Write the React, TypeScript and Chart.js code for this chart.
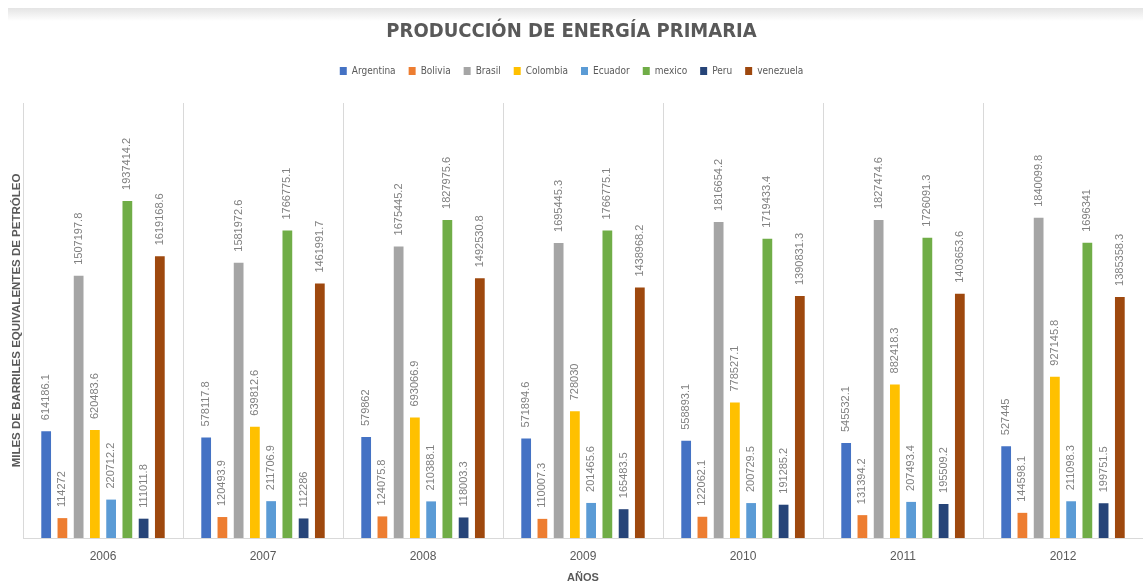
import React, { useEffect, useRef } from "react";
import { Chart, registerables } from "chart.js";

Chart.register(...registerables);

const years = ["2006", "2007", "2008", "2009", "2010", "2011", "2012"];
const seriesNames = ["Argentina", "Bolivia", "Brasil", "Colombia", "Ecuador", "mexico", "Peru", "venezuela"];
const seriesColors = ["#4472C4", "#ED7D31", "#A5A5A5", "#FFC000", "#5B9BD5", "#70AD47", "#264478", "#9E480E"];

const argentina = [614186.1, 578117.8, 579862, 571894.6, 558893.1, 545532.1, 527445];
const bolivia = [114272, 120493.9, 124075.8, 110007.3, 122062.1, 131394.2, 144598.1];
const brasil = [1507197.8, 1581972.6, 1675445.2, 1695445.3, 1816654.2, 1827474.6, 1840099.8];
const colombia = [620483.6, 639812.6, 693066.9, 728030, 778527.1, 882418.3, 927145.8];
const ecuador = [220712.2, 211706.9, 210388.1, 201465.6, 200729.5, 207493.4, 211098.3];
const mexico = [1937414.2, 1766775.1, 1827975.6, 1766775.1, 1719433.4, 1726091.3, 1696341];
const peru = [111011.8, 112286, 118003.3, 165483.5, 191285.2, 195509.2, 199751.5];
const venezuela = [1619168.6, 1461991.7, 1492530.8, 1438968.2, 1390831.3, 1403653.6, 1385358.3];

const seriesValues = [argentina, bolivia, brasil, colombia, ecuador, mexico, peru, venezuela];

const titleText = "PRODUCCIÓN DE ENERGÍA PRIMARIA";
const yTitle = "MILES DE BARRILES EQUIVALENTES DE PETRÓLEO";
const xTitle = "AÑOS";

const NARROW = "'DejaVu Sans Condensed', 'Liberation Sans', sans-serif";
const NORMAL = "'Liberation Sans', Arial, sans-serif";
const TEXT = "#595959";

const dataLabels = {
  id: "dataLabels",
  afterDatasetsDraw(chart: any) {
    const ctx = chart.ctx;
    ctx.save();
    ctx.font = `11px ${NORMAL}`;
    ctx.fillStyle = "#808080";
    ctx.textAlign = "left";
    ctx.textBaseline = "middle";
    chart.data.datasets.forEach((ds: any, di: number) => {
      const meta = chart.getDatasetMeta(di);
      meta.data.forEach((bar: any, i: number) => {
        const v = ds.data[i];
        ctx.save();
        ctx.translate(bar.x, bar.y - 11);
        ctx.rotate(-Math.PI / 2);
        ctx.fillText(String(v), 0, 0);
        ctx.restore();
      });
    });
    ctx.restore();
  },
};

export default function App() {
  const ref = useRef<HTMLCanvasElement | null>(null);

  useEffect(() => {
    if (!ref.current) return;
    const chart = new Chart(ref.current, {
      type: "bar",
      data: {
        labels: years,
        datasets: seriesNames.map((name, i) => ({
          label: name,
          data: seriesValues[i],
          backgroundColor: seriesColors[i],
          borderWidth: 0,
          categoryPercentage: 0.812,
          barPercentage: 0.6,
        })),
      },
      options: {
        responsive: false,
        animation: false,
        layout: { padding: 0 },
        plugins: {
          title: {
            display: true,
            text: titleText,
            color: TEXT,
            font: { family: NARROW, size: 20, weight: "bold" },
            padding: { top: 20, bottom: 9 },
          },
          legend: {
            display: true,
            position: "top",
            labels: {
              boxWidth: 7,
              boxHeight: 8,
              padding: 13,
              color: TEXT,
              font: { family: NARROW, size: 10 },
            },
          },
          tooltip: { enabled: false },
        },
        scales: {
          x: {
            position: "bottom",
            grid: { display: true, offset: true, color: "#d9d9d9", drawTicks: false, lineWidth: 1 },
            border: { display: true, color: "#d9d9d9" },
            ticks: { color: TEXT, font: { family: NORMAL, size: 12 }, padding: 11 },
            title: {
              display: true,
              text: xTitle,
              color: TEXT,
              font: { family: NORMAL, size: 11, weight: "bold" },
              padding: { top: 0, bottom: 2 },
            },
            afterFit: (s: any) => {
              s.height = 49;
            },
          },
          x2: {
            type: "category",
            position: "top",
            display: true,
            grid: { display: false },
            border: { display: false },
            ticks: { display: false },
            afterFit: (s: any) => {
              s.height = 17;
            },
          },
          y: {
            min: 0,
            max: 2500000,
            grid: { display: false },
            border: { display: false },
            ticks: { display: false },
            title: {
              display: true,
              text: yTitle,
              color: TEXT,
              font: { family: NORMAL, size: 11.5, weight: "bold" },
              padding: { top: 10, bottom: 0 },
            },
            afterFit: (s: any) => {
              s.width = 23;
            },
          },
        },
      },
      plugins: [dataLabels],
    } as any);
    return () => chart.destroy();
  }, []);

  return (
    <div style={{ position: "absolute", left: 0, top: 0, width: 1143, height: 587, background: "#fff" }}>
      <div
        style={{
          position: "absolute",
          left: 8,
          top: 8,
          width: 1135,
          height: 13,
          background: "linear-gradient(#e4e4e4, #ffffff)",
        }}
      />
      <canvas
        ref={ref}
        width={1143}
        height={587}
        style={{ position: "absolute", left: 0, top: 0, display: "block" }}
      />
    </div>
  );
}
